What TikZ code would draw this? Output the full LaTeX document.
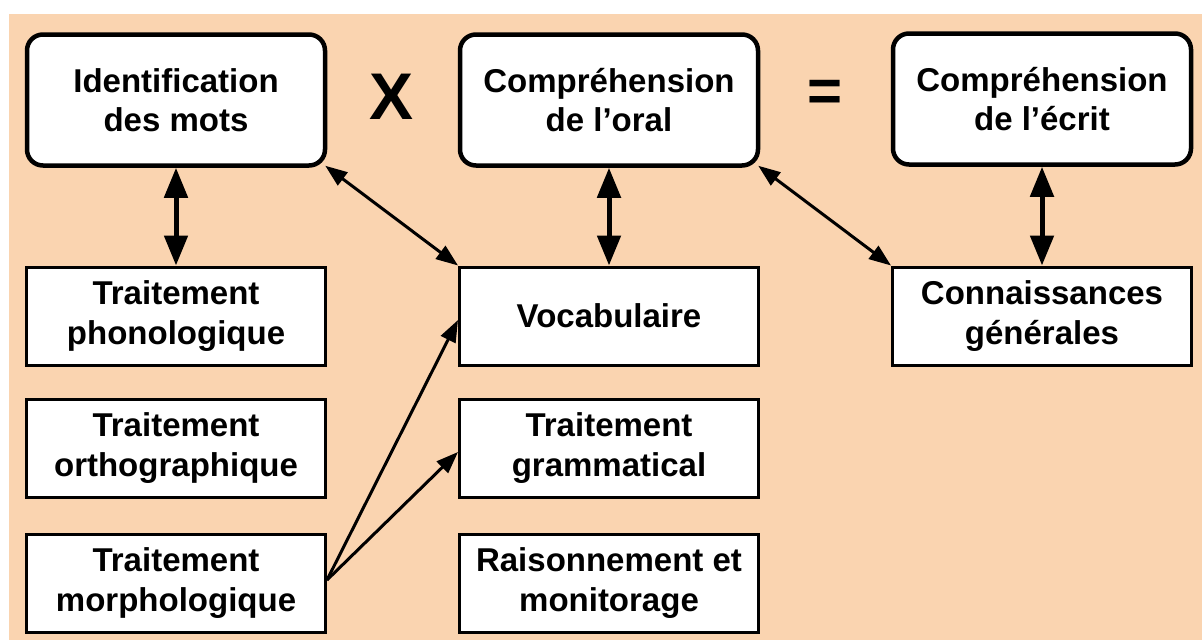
\documentclass[tikz,border=0pt]{standalone}
\usepackage{fontspec}
\setmainfont{Liberation Sans}
\usetikzlibrary{arrows.meta}
\definecolor{peach}{RGB}{250,212,176}
\begin{document}
\begin{tikzpicture}[x=1pt,y=-1pt,
  every node/.style={font=\fontsize{33}{39.5}\selectfont\bfseries, align=center, inner sep=0pt},
  rbox/.style={draw, line width=4.5pt, rounded corners=16pt, fill=white, minimum width=298pt, minimum height=131pt},
  sbox/.style={draw, line width=3pt, fill=white, minimum width=299pt, minimum height=98pt},
  bigarr/.style={line width=5pt, {Triangle[length=30pt,width=23pt]}-{Triangle[length=30pt,width=23pt]}},
  thinarr/.style={line width=3pt, {Triangle[length=22pt,width=16pt]}-{Triangle[length=22pt,width=16pt]}},
  onearr/.style={line width=3pt, -{Triangle[length=22pt,width=16pt]}}
]
\useasboundingbox (0,0) rectangle (1202,643);
\fill[peach] (9,14) rectangle (1202,640);

\node[rbox] (b1) at (176,100) {Identification\\des mots};
\node[rbox] (b2) at (609,100) {Compréhension\\de l’oral};
\node[rbox] (b3) at (1042,99) {Compréhension\\de l’écrit};

\node[font=\fontsize{66}{70}\selectfont\bfseries] (x) at (392,97) {X};
\node[font=\fontsize{60}{66}\selectfont\bfseries] (eq) at (825,96) {=};

\node[sbox] (p1) at (176,316) {Traitement\\phonologique};
\node[sbox] (p2) at (176,448) {Traitement\\orthographique};
\node[sbox] (p3) at (176,583) {Traitement\\morphologique};
\node[sbox] (v) at (609,316) {Vocabulaire};
\node[sbox] (g) at (609,448) {Traitement\\grammatical};
\node[sbox] (r) at (609,583) {Raisonnement et\\monitorage};
\node[sbox] (c) at (1042,316) {Connaissances\\générales};

\draw[bigarr] (b1.south) -- (p1.north);
\draw[bigarr] (b2.south) -- (v.north);
\draw[bigarr] (b3.south) -- (c.north);
\draw[thinarr] ([shift={(-2pt,2pt)}]b1.south east) -- (v.north west);
\draw[thinarr] ([shift={(-2pt,2pt)}]b2.south east) -- (c.north west);
\draw[onearr] ([yshift=3pt]p3.east) -- ([yshift=-4pt]v.west);
\draw[onearr] ([yshift=3pt]p3.east) -- ([yshift=-4pt]g.west);
\end{tikzpicture}
\end{document}
